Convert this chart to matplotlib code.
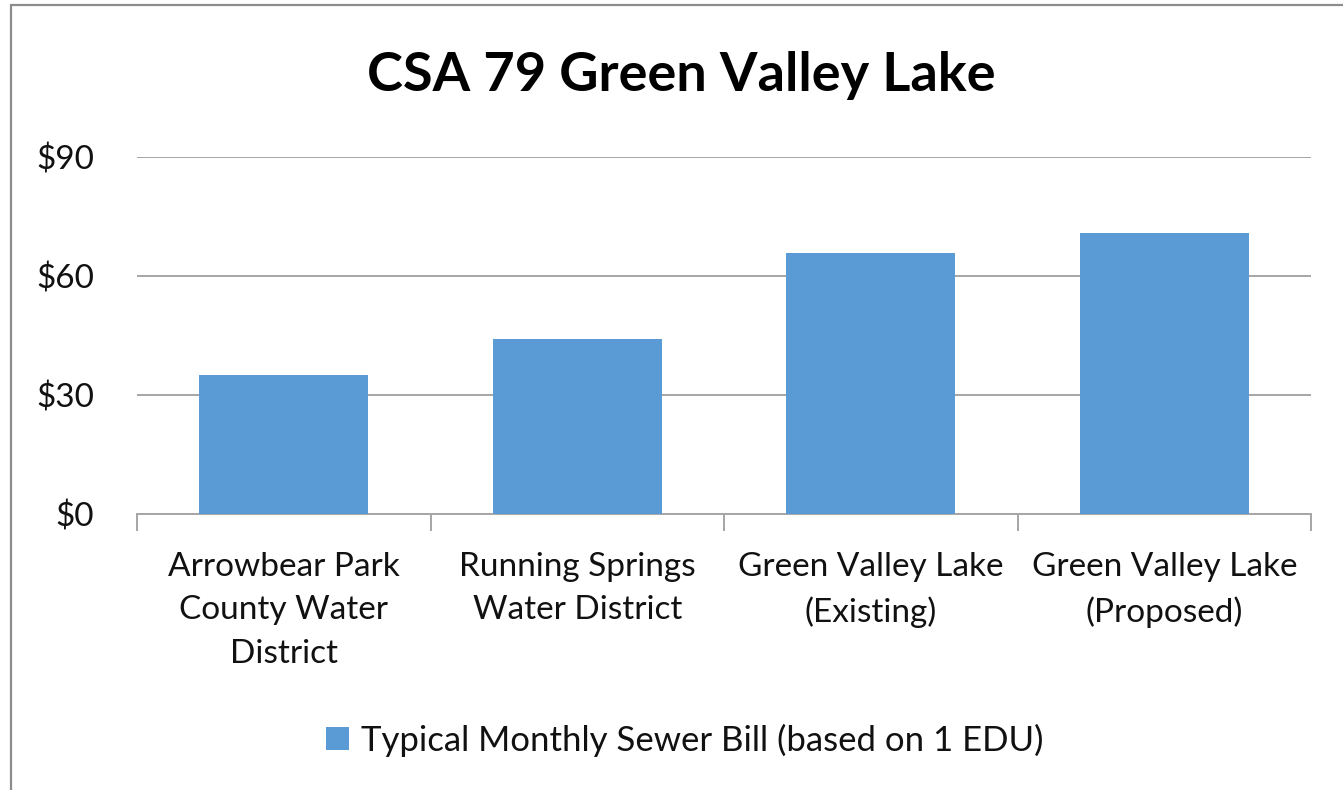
import matplotlib
matplotlib.use("Agg")
import matplotlib.pyplot as plt
from matplotlib.patches import Rectangle
from matplotlib.ticker import FixedLocator

# data
categories = ["Arrowbear Park\nCounty Water\nDistrict",
              "Running Springs\nWater District",
              "Green Valley Lake\n(Existing)",
              "Green Valley Lake\n(Proposed)"]
bill = [35.0, 44.0, 65.7, 70.8]
yticks = [0, 30, 60, 90]
ytick_labels = ["$0", "$30", "$60", "$90"]
series_name = "Typical Monthly Sewer Bill (based on 1 EDU)"
title = "CSA 79 Green Valley Lake"

BAR = "#5B9BD5"
GRID = "#a6a6a6"
TXT = "#111111"

plt.rcParams["font.family"] = ["Lato", "DejaVu Sans"]

fig = plt.figure(figsize=(13.43, 7.90), dpi=100)
ax = fig.add_axes([137 / 1343, 1 - 514 / 790, (1311 - 137) / 1343, (514 - 157) / 790])

x = list(range(len(categories)))
ax.bar(x, bill, width=0.575, color=BAR, label=series_name, zorder=3)

ax.set_xlim(-0.5, len(categories) - 0.5)
ax.set_ylim(0, 90)
ax.set_yticks(yticks)
ax.set_yticklabels(ytick_labels, fontsize=24, color=TXT)
ax.yaxis.grid(True, color=GRID, linewidth=1.4, zorder=0)
ax.tick_params(axis="y", length=0, pad=31)

ax.set_xticks(x)
ax.set_xticklabels(categories, fontsize=24, color=TXT, linespacing=1.57)
ax.xaxis.set_minor_locator(FixedLocator([i - 0.5 for i in range(len(categories) + 1)]))
ax.tick_params(axis="x", which="major", length=0, pad=27)
ax.tick_params(axis="x", which="minor", length=12, width=1.4, color=GRID)

for s in ["top", "right", "left"]:
    ax.spines[s].set_visible(False)
ax.spines["bottom"].set_color(GRID)
ax.spines["bottom"].set_linewidth(1.4)

fig.text(0.507, 0.905, title, ha="center", va="center", fontsize=39,
         fontweight="bold", color="black")

fig.legend(loc="center", bbox_to_anchor=(0.51, 0.063), frameon=False,
           fontsize=25, handlelength=0.65, handleheight=0.65, handletextpad=0.35,
           labelcolor=TXT)

# outer chart border
fig.patches.append(Rectangle((11 / 1343, -0.01), 1.1, 1 - 5 / 790 + 0.01,
                             transform=fig.transFigure, fill=False,
                             edgecolor="#8c8c8c", linewidth=1.6))

fig.savefig("out.png", dpi=100, facecolor="white")
